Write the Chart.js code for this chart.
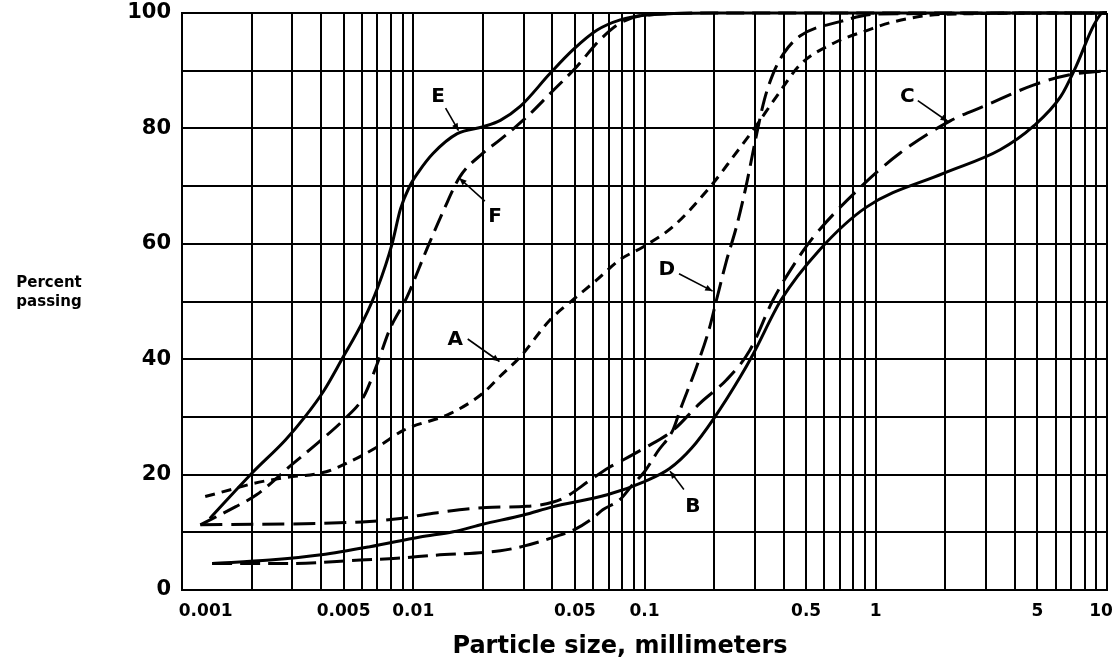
<!DOCTYPE html>
<html>
<head>
<meta charset="utf-8">
<title>Grain size curves</title>
<script src="https://cdn.jsdelivr.net/npm/chart.js@4.4.0/dist/chart.umd.min.js"></script>
<style>
  body { margin: 0; background: #fff; }
</style>
</head>
<body>
<canvas id="grainChart" width="1114" height="667"></canvas>
<script>
// [particle size in mm, percent passing]
var curveA = [[0.00126,16.2],[0.0017,17.6],[0.002,18.4],[0.0027,19.4],[0.0042,20.5],[0.0053,22.2],[0.0072,25.1],[0.0091,27.7],[0.0145,30.6],[0.02,34.1],[0.0237,37],[0.029,40.4],[0.039,46.8],[0.049,50.3],[0.062,53.7],[0.078,57.2],[0.099,59.5],[0.133,63],[0.198,70.5],[0.242,75.1],[0.295,79.7],[0.372,85.5],[0.47,91],[0.66,94.8],[0.92,97],[1.2,98.5],[2,99.8],[10,100]];
var curveB = [[0.00135,4.6],[0.0024,5.2],[0.004,6.1],[0.0065,7.5],[0.0107,9.2],[0.0149,10.1],[0.02,11.4],[0.03,13],[0.04,14.4],[0.069,16.5],[0.1,18.8],[0.128,21],[0.16,24.6],[0.2,29.8],[0.26,37],[0.296,41],[0.39,50.3],[0.57,58.9],[0.915,66.4],[1.96,72.2],[3.45,76.3],[4.78,80.3],[6.3,85.5],[7.3,90.5],[8.8,98],[9.6,100],[10,100]];
var curveC = [[0.0012,11.3],[0.006,11.8],[0.0088,12.4],[0.0122,13.3],[0.0207,14.3],[0.031,14.5],[0.04,15.2],[0.046,16.2],[0.058,19],[0.07,21.2],[0.078,22.2],[0.1,24.6],[0.133,27.7],[0.174,32.4],[0.226,36.4],[0.285,41.5],[0.36,50.3],[0.48,58.5],[0.57,62.4],[0.88,70.2],[1.27,75.7],[2.1,81.3],[3,84],[4.8,87.5],[6.9,89.3],[10,90]];
var curveD = [[0.00135,4.6],[0.003,4.6],[0.0059,5.2],[0.0085,5.5],[0.0122,6],[0.0238,6.8],[0.03,7.6],[0.043,9.5],[0.05,10.5],[0.06,12.5],[0.066,13.9],[0.078,15.6],[0.089,18.3],[0.1,20.5],[0.114,24],[0.133,27.8],[0.142,31],[0.168,38.7],[0.19,45.1],[0.204,50],[0.226,57],[0.25,63],[0.275,70],[0.3,77.5],[0.33,85],[0.36,89.5],[0.4,93],[0.47,96],[0.7,98.5],[1,99.8],[10,100]];
var curveE = [[0.00132,12.4],[0.002,20.2],[0.0028,26],[0.0034,30],[0.0041,34.5],[0.0049,39.9],[0.0061,46.8],[0.007,52.3],[0.0081,60],[0.0088,66],[0.0096,69.8],[0.0106,72.6],[0.0122,75.7],[0.0155,79.1],[0.0201,80.3],[0.0238,81.4],[0.029,83.8],[0.039,89.5],[0.049,93.6],[0.0622,97],[0.0785,98.8],[0.1,99.6],[0.2,100],[10,100]];
var curveF = [[0.0012,11.3],[0.0017,14.4],[0.0021,16.5],[0.003,21.8],[0.004,26],[0.005,29.5],[0.0061,33.5],[0.007,39.3],[0.0079,45.1],[0.0094,50.8],[0.0114,58.9],[0.0136,66],[0.0159,71.6],[0.02,75.7],[0.0237,78],[0.031,82],[0.039,86],[0.0509,90.7],[0.064,95.3],[0.078,98.2],[0.1,99.6],[0.2,100],[10,100]];

var xLabelValues = [0.001, 0.005, 0.01, 0.05, 0.1, 0.5, 1, 5, 10];
var yLabelValues = [0, 20, 40, 60, 80, 100];
var gridDecades = [0.001, 0.01, 0.1, 1];

// letter, label at (size, %), arrow from (size, %) to (size, %)
var curveTags = [
  ['E', 0.0128, 85.4, 0.0138, 83.5, 0.0157, 79.6],
  ['F', 0.0226, 64.6, 0.0204, 67.4, 0.0158, 71.4],
  ['A', 0.0152, 43.3, 0.0172, 43.5, 0.0236, 39.6],
  ['D', 0.125, 55.5, 0.141, 54.8, 0.197, 51.8],
  ['C', 1.37, 85.4, 1.52, 84.8, 2.05, 81.2],
  ['B', 0.162, 14.4, 0.148, 17.4, 0.129, 20.6]
];

// vertical rules at 1..9 in every decade
var gridSizes = [];
gridDecades.forEach(function (d) {
  for (var m = 1; m < 10; m++) gridSizes.push(Number((m * d).toPrecision(6)));
});
gridSizes.push(10);

function toPoints(arr) {
  return arr.map(function (p) { return { x: p[0], y: p[1] }; });
}

function curve(label, arr, dash) {
  return {
    label: label,
    data: toPoints(arr),
    borderColor: '#000',
    borderWidth: 3,
    borderDash: dash,
    borderCapStyle: 'butt',
    pointRadius: 0,
    fill: false,
    cubicInterpolationMode: 'monotone',
    clip: 4
  };
}

var paperText = {
  id: 'paperText',
  afterDraw: function (chart) {
    var c = chart.ctx, xs = chart.scales.x, ys = chart.scales.y;
    c.save();
    c.fillStyle = '#000';
    c.strokeStyle = '#000';
    c.textAlign = 'center';
    c.textBaseline = 'middle';
    c.font = 'bold 15px "DejaVu Sans"';
    c.fillText('Percent', 49, 283);
    c.fillText('passing', 49, 302);
    c.font = 'bold 24px "DejaVu Sans"';
    c.fillText('Particle size, millimeters', 620, 647);

    c.font = 'bold 20px "DejaVu Sans"';
    c.lineWidth = 1.6;
    curveTags.forEach(function (t) {
      c.fillText(t[0], xs.getPixelForValue(t[1]), ys.getPixelForValue(t[2]));
      var x0 = xs.getPixelForValue(t[3]), y0 = ys.getPixelForValue(t[4]);
      var x1 = xs.getPixelForValue(t[5]), y1 = ys.getPixelForValue(t[6]);
      c.beginPath();
      c.moveTo(x0, y0);
      c.lineTo(x1, y1);
      c.stroke();
      var ang = Math.atan2(y1 - y0, x1 - x0);
      c.beginPath();
      c.moveTo(x1, y1);
      c.lineTo(x1 - 8 * Math.cos(ang - 0.4), y1 - 8 * Math.sin(ang - 0.4));
      c.lineTo(x1 - 8 * Math.cos(ang + 0.4), y1 - 8 * Math.sin(ang + 0.4));
      c.closePath();
      c.fill();
    });
    c.restore();
  }
};

var ctx = document.getElementById('grainChart').getContext('2d');

var chart = new Chart(ctx, {
  type: 'line',
  data: {
    datasets: [
      curve('A', curveA, [10, 7]),
      curve('B', curveB, []),
      curve('C', curveC, [22, 9]),
      curve('D', curveD, [20, 8]),
      curve('E', curveE, []),
      curve('F', curveF, [18, 8])
    ]
  },
  options: {
    responsive: false,
    animation: false,
    layout: { padding: 0 },
    plugins: {
      legend: { display: false },
      tooltip: { enabled: false }
    },
    scales: {
      x: {
        type: 'logarithmic',
        min: 0.001,
        max: 10,
        afterBuildTicks: function (axis) {
          axis.ticks = gridSizes.map(function (v) { return { value: v }; });
        },
        afterFit: function (s) {
          s.height = 77;
          s.paddingRight = 7;
        },
        ticks: {
          autoSkip: false,
          maxRotation: 0,
          minRotation: 0,
          padding: 11,
          color: '#000',
          font: { family: 'DejaVu Sans', weight: 'bold', size: 17 },
          callback: function (v) {
            var last = xLabelValues.length - 1;
            for (var i = 0; i <= last; i++) {
              if (Math.abs(xLabelValues[i] - v) < xLabelValues[i] * 1e-6) {
                // end labels are nudged inside the frame in the original
                if (i === 0) return '        ' + xLabelValues[i];
                if (i === last) return xLabelValues[i] + '  ';
                return String(xLabelValues[i]);
              }
            }
            return '';
          }
        },
        grid: { color: '#000', lineWidth: 2, drawTicks: false },
        border: { color: '#000', width: 2 }
      },
      y: {
        min: 0,
        max: 100,
        afterFit: function (s) {
          s.width = 182;
          s.paddingTop = 13;
        },
        ticks: {
          stepSize: 10,
          autoSkip: false,
          padding: 11,
          color: '#000',
          font: { family: 'DejaVu Sans', weight: 'bold', size: 21 },
          callback: function (v) {
            return yLabelValues.indexOf(v) >= 0 ? String(v) : '';
          }
        },
        grid: { color: '#000', lineWidth: 2, drawTicks: false },
        border: { color: '#000', width: 2 }
      }
    }
  },
  plugins: [paperText]
});
</script>
</body>
</html>
